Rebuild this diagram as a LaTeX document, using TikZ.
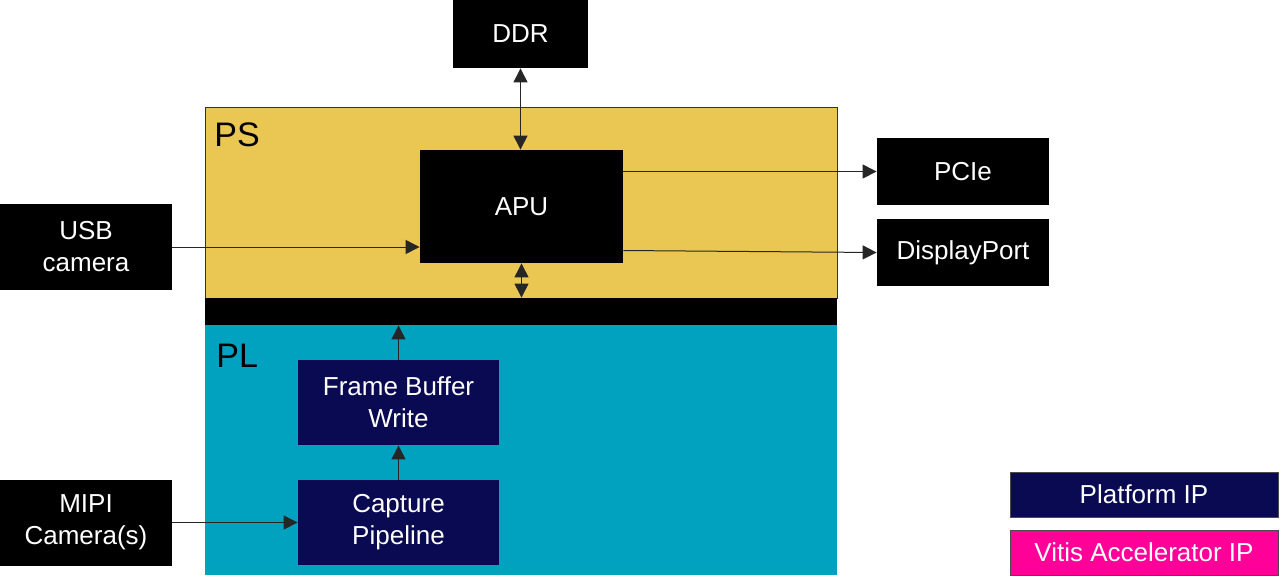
\documentclass[tikz,border=0pt]{standalone}
\usepackage{fontspec}
\setmainfont{Liberation Sans}
\usetikzlibrary{arrows.meta}
\definecolor{psgold}{HTML}{EAC752}
\definecolor{plteal}{HTML}{00A2C0}
\definecolor{ipnavy}{HTML}{0A0A52}
\definecolor{vitispink}{HTML}{FF0099}
\tikzset{
  blk/.style={fill=black,text=white,align=center,font=\fontsize{13}{16}\selectfont,inner sep=0pt},
  ipbox/.style={blk,fill=ipnavy},
  conn/.style={line width=0.5pt,draw=black!85,-{Triangle[length=7pt,width=7pt]}},
  bconn/.style={conn,{Triangle[length=7pt,width=7pt]}-{Triangle[length=7pt,width=7pt]}}
}
\begin{document}
\begin{tikzpicture}[x=0.5pt,y=-0.5pt]
    \useasboundingbox(0,0)rectangle(1280,585);
    % regions
    \node[fill=psgold,draw=black!80,line width=0.5pt,minimum width=316pt,minimum height=95.5pt,inner sep=0pt](ps)at(521,202.5){};
    \node[fill=plteal,minimum width=316pt,minimum height=125pt,inner sep=0pt](pl)at(521,450){};
    \node[fill=black,minimum width=316pt,minimum height=13.5pt,inner sep=0pt](bus)at(521,311.5){};
    \node[anchor=west,font=\fontsize{17}{17}\selectfont,inner sep=0pt](pslabel)at(214,135){PS};
    \node[anchor=west,font=\fontsize{17}{17}\selectfont,inner sep=0pt](pllabel)at(216,356){PL};

    % blocks
    \node[blk,minimum width=67.5pt,minimum height=34pt](ddr)at(520.5,34){DDR};
    \node[blk,minimum width=101.5pt,minimum height=56.5pt](apu)at(521.5,206.5){APU};
    \node[blk,minimum width=86pt,minimum height=33.5pt](pcie)at(963,171.5){PCIe};
    \node[blk,minimum width=86pt,minimum height=33.5pt](dp)at(963,252.5){DisplayPort};
    \node[blk,minimum width=86pt,minimum height=43pt](usb)at(86,247){USB\\camera};
    \node[blk,minimum width=86pt,minimum height=43pt](mipi)at(86,522.5){MIPI\\Camera(s)};
    \node[ipbox,minimum width=100.5pt,minimum height=42.5pt](fbw)at(398.5,402.5){Frame Buffer\\Write};
    \node[ipbox,minimum width=100.5pt,minimum height=42.5pt](cap)at(398.5,522.5){Capture\\Pipeline};

    % legend
    \node[ipbox,draw=black!70,line width=0.5pt,minimum width=134pt,minimum height=22.5pt](leg1)at(1144,494.5){Platform IP};
    \node[blk,fill=vitispink,draw=black!70,line width=0.5pt,minimum width=134pt,minimum height=22.5pt](leg2)at(1144,552.5){Vitis Accelerator IP};

    % connections
    \draw[bconn](ddr.south)--(ddr.south|-apu.north);
    \draw[bconn](apu.south)--(apu.south|-bus.north);
    \draw[conn](fbw.north)--(fbw.north|-bus.south);
    \draw[conn](cap.north)--(fbw.south);
    \draw[conn](mipi.east)--(cap.west);
    \draw[conn](usb.east)--(usb.east-|apu.west);
    \draw[conn](apu.east|-pcie.west)--(pcie.west);
    \draw[conn]([yshift=1pt]apu.east|-dp.west)--(dp.west);
\end{tikzpicture}
\end{document}
